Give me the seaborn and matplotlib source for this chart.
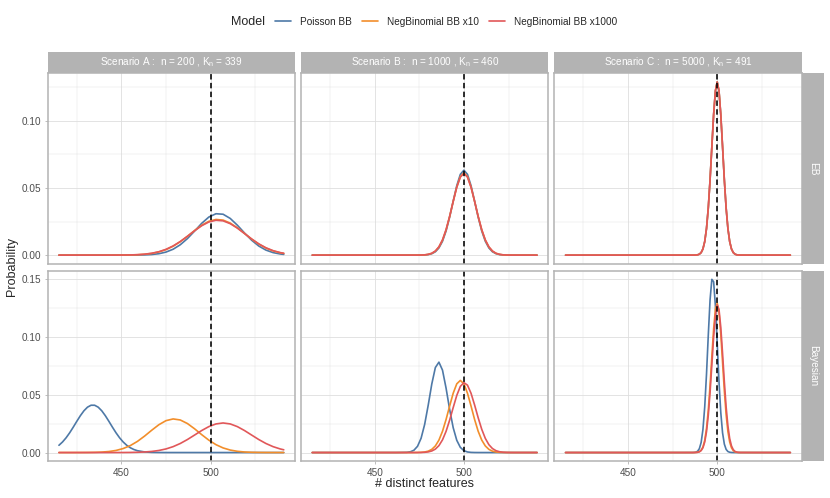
import matplotlib
matplotlib.use("Agg")
import matplotlib.pyplot as plt
from matplotlib.lines import Line2D
from matplotlib.ticker import FixedLocator, FormatStrFormatter
import pandas as pd
import seaborn as sns

# ---------------- data ----------------
models = ["Poisson BB", "NegBinomial BB x10", "NegBinomial BB x1000"]
model_colors = ["#4E79A7", "#F28E2B", "#E15759"]
methods = ["EB", "Bayesian"]
scenarios = ["A", "B", "C"]
scenario_labels = [
    "Scenario A :  n = 200 , K$_{n}$ = 339",
    "Scenario B :  n = 1000 , K$_{n}$ = 460",
    "Scenario C :  n = 5000 , K$_{n}$ = 491",
]
ref_line = 500

x_A = [415, 419, 423, 427, 431, 435, 439, 443, 447, 451, 455, 459, 463, 467, 471, 475,
       479, 483, 487, 491, 495, 499, 503, 507, 511, 515, 519, 523, 527, 531, 535, 539, 541]
x_A_fine = [415, 417, 419, 421, 423, 425, 427, 429, 431, 433, 435, 437, 439, 441, 443, 445,
            447, 449, 451, 453, 455, 457, 459, 463, 467, 471, 475, 541]
x_B = [415, 445, 462, 468, 470, 472, 474, 476, 478, 480, 482, 484, 486, 488, 490, 492,
       494, 496, 498, 500, 502, 504, 506, 508, 510, 512, 514, 516, 518, 520, 522, 524,
       526, 528, 530, 541]
x_C = [415, 470, 482, 486, 487, 488, 489, 490, 491, 492, 493, 494, 495, 496, 497, 498,
       499, 500, 501, 502, 503, 504, 505, 506, 507, 508, 509, 510, 511, 512, 513, 520, 541]

# EB row
eb_A_pois = [0, 0, 0, 0, 0, 0, 0, 0.0000004, 0.0000016, 0.0000057, 0.00002, 0.00006, 0.00018,
             0.00046, 0.00106, 0.00228, 0.0044, 0.00772, 0.0123, 0.01787, 0.02364, 0.02831,
             0.03079, 0.03042, 0.0273, 0.02226, 0.01648, 0.01109, 0.00677, 0.00376, 0.00189,
             0.00087, 0.00057]
eb_A_nb10 = [0, 0, 0, 0, 0, 0, 0, 0.000007, 0.000019, 0.000052, 0.000128, 0.000296, 0.000635,
             0.00127, 0.00237, 0.0041, 0.00663, 0.00998, 0.014, 0.01827, 0.02222, 0.02516,
             0.02654, 0.02607, 0.02385, 0.02033, 0.01613, 0.01192, 0.00821, 0.00526, 0.00314,
             0.00175, 0.00127]
eb_A_nb1000 = [0, 0, 0, 0.0000001, 0.0000003, 0.000001, 0.000003, 0.000009, 0.000025, 0.000064,
               0.000155, 0.000345, 0.00072, 0.0014, 0.00254, 0.00432, 0.00684, 0.01013, 0.01403,
               0.01812, 0.02187, 0.02465, 0.02594, 0.02551, 0.02341, 0.02008, 0.01608, 0.01203,
               0.0084, 0.00548, 0.00334, 0.0019, 0.0014]
eb_B_pois = [0, 0, 0, 0, 0.0000008, 0.0000033, 0.0000126, 0.0000446, 0.000142, 0.000409, 0.00107,
             0.00251, 0.00535, 0.0103, 0.01793, 0.02823, 0.04016, 0.05166, 0.06009, 0.0632,
             0.06009, 0.05166, 0.04016, 0.02823, 0.01793, 0.0103, 0.00535, 0.00251, 0.00107,
             0.000409, 0.000142, 0.0000446, 0.0000126, 0.0000033, 0.0000008, 0]
eb_B_nb10 = [0, 0, 0, 0.0000003, 0.0000015, 0.0000057, 0.0000205, 0.0000671, 0.000199, 0.000538,
             0.00132, 0.00296, 0.00602, 0.01114, 0.01875, 0.0287, 0.03997, 0.05064, 0.05837,
             0.0612, 0.05837, 0.05064, 0.03997, 0.0287, 0.01875, 0.01114, 0.00602, 0.00296,
             0.00132, 0.000538, 0.000199, 0.0000671, 0.0000205, 0.0000057, 0.0000015, 0]
eb_B_nb1000 = [0, 0, 0, 0.0000004, 0.0000017, 0.0000065, 0.000023, 0.000074, 0.000216, 0.000575,
               0.00139, 0.00308, 0.0062, 0.01135, 0.01895, 0.02884, 0.03997, 0.05046, 0.05803,
               0.0608, 0.05803, 0.05046, 0.03997, 0.02884, 0.01895, 0.01135, 0.0062, 0.00308,
               0.00139, 0.000575, 0.000216, 0.000074, 0.000023, 0.0000065, 0.0000017, 0]
eb_C_pois = [0, 0, 0, 0.0000048, 0.0000196, 0.0000718, 0.000238, 0.000709, 0.0019, 0.00461,
             0.01007, 0.0198, 0.03507, 0.05603, 0.08064, 0.1046, 0.12227, 0.1288, 0.12227,
             0.1046, 0.08064, 0.05603, 0.03507, 0.0198, 0.01007, 0.00461, 0.0019, 0.000709,
             0.000238, 0.0000718, 0.0000196, 0, 0]
eb_C_nb10 = [0, 0, 0, 0.0000048, 0.0000196, 0.0000718, 0.000238, 0.000709, 0.0019, 0.00461,
             0.01007, 0.0198, 0.03507, 0.05603, 0.08064, 0.1046, 0.12227, 0.1288, 0.12227,
             0.1046, 0.08064, 0.05603, 0.03507, 0.0198, 0.01007, 0.00461, 0.0019, 0.000709,
             0.000238, 0.0000718, 0.0000196, 0, 0]
eb_C_nb1000 = [0, 0, 0, 0.0000048, 0.0000196, 0.0000718, 0.000238, 0.000709, 0.0019, 0.00461,
               0.01007, 0.0198, 0.03507, 0.05603, 0.08064, 0.1046, 0.12227, 0.1288, 0.12227,
               0.1046, 0.08064, 0.05603, 0.03507, 0.0198, 0.01007, 0.00461, 0.0019, 0.000709,
               0.000238, 0.0000718, 0.0000196, 0, 0]

# Bayesian row
bay_A_pois = [0.00626, 0.0091, 0.0127, 0.017, 0.02184, 0.0269, 0.03177, 0.036, 0.03912, 0.04079,
              0.04079, 0.03912, 0.036, 0.03177, 0.0269, 0.02184, 0.017, 0.0127, 0.0091, 0.00626,
              0.00413, 0.00261, 0.00158, 0.000515, 0.000142, 0.000033, 0.0000066, 0]
bay_A_nb10 = [0.0000005, 0.000002, 0.0000066, 0.000021, 0.00006, 0.00016, 0.00039, 0.00088,
              0.00181, 0.00344, 0.006, 0.00962, 0.01419, 0.01924, 0.02399, 0.0275, 0.02898,
              0.02808, 0.02502, 0.0205, 0.01544, 0.01069, 0.0068, 0.00398, 0.00214, 0.00106,
              0.00048, 0.0002, 0.000078, 0.000027, 0.000009, 0.0000027, 0.0000014]
bay_A_nb1000 = [0, 0, 0, 0.00000005, 0.0000002, 0.0000006, 0.0000019, 0.0000056, 0.0000157,
                0.00004, 0.0000985, 0.000224, 0.000477, 0.000952, 0.00178, 0.00311, 0.00509,
                0.00781, 0.01121, 0.01507, 0.01897, 0.02236, 0.02467, 0.0255, 0.02467, 0.02236,
                0.01897, 0.01507, 0.01121, 0.00781, 0.00509, 0.00311, 0.00237]
bay_B_pois = [0, 0, 0.0000015, 0.000177, 0.000643, 0.002, 0.00537, 0.0123, 0.02424, 0.04086,
              0.0591, 0.07329, 0.07794, 0.07107, 0.05556, 0.03725, 0.02141, 0.01056, 0.00446,
              0.00162, 0.000502, 0.000134, 0.0000306, 0.000006, 0.0000011, 0, 0, 0, 0, 0, 0,
              0, 0, 0, 0, 0]
bay_B_nb10 = [0, 0, 0, 0.0000011, 0.0000043, 0.0000162, 0.000055, 0.000169, 0.000471, 0.00119,
              0.00273, 0.00569, 0.01072, 0.01835, 0.02848, 0.04008, 0.05117, 0.05924, 0.0622,
              0.05924, 0.05117, 0.04008, 0.02848, 0.01835, 0.01072, 0.00569, 0.00273, 0.00119,
              0.000471, 0.000169, 0.000055, 0.0000162, 0.0000043, 0.0000011, 0, 0]
bay_B_nb1000 = [0, 0, 0, 0.0000004, 0.0000017, 0.0000065, 0.0000228, 0.0000726, 0.00021,
                0.000557, 0.00135, 0.00296, 0.00596, 0.01093, 0.01827, 0.02789, 0.0388, 0.04925,
                0.05704, 0.06027, 0.0581, 0.05109, 0.04099, 0.03, 0.02003, 0.0122, 0.00678,
                0.00344, 0.00159, 0.00067, 0.000257, 0.0000905, 0.000029, 0.0000085,
                0.0000023, 0]
bay_C_pois = [0, 0, 0, 0.0000177, 0.000081, 0.000322, 0.00111, 0.00334, 0.00871, 0.01983,
              0.03922, 0.06751, 0.10111, 0.13175, 0.14934, 0.14726, 0.12635, 0.09433, 0.06126,
              0.03463, 0.01702, 0.00728, 0.00271, 0.000876, 0.000247, 0.0000606, 0.000013,
              0, 0, 0, 0, 0, 0]
bay_C_nb10 = [0, 0, 0, 0.0000049, 0.00002, 0.0000737, 0.000246, 0.000737, 0.00198, 0.00481,
              0.01049, 0.02059, 0.03638, 0.05788, 0.08278, 0.10664, 0.12361, 0.12893, 0.12104,
              0.10225, 0.07777, 0.0532, 0.03275, 0.01814, 0.00905, 0.00406, 0.00164, 0.000597,
              0.000195, 0.0000572, 0.0000151, 0, 0]
bay_C_nb1000 = [0, 0, 0, 0.0000043, 0.0000175, 0.000064, 0.000212, 0.00063, 0.0017, 0.00412,
                0.00906, 0.01794, 0.0321, 0.05185, 0.07569, 0.09967, 0.11858, 0.12734, 0.12349,
                0.10815, 0.08549, 0.06107, 0.03935, 0.02292, 0.01203, 0.00572, 0.00245,
                0.000948, 0.000332, 0.000105, 0.0000298, 0, 0]

# (x grid, y values) for each panel / model
curves = {
    ("EB", "A"): [(x_A, eb_A_pois), (x_A, eb_A_nb10), (x_A, eb_A_nb1000)],
    ("EB", "B"): [(x_B, eb_B_pois), (x_B, eb_B_nb10), (x_B, eb_B_nb1000)],
    ("EB", "C"): [(x_C, eb_C_pois), (x_C, eb_C_nb10), (x_C, eb_C_nb1000)],
    ("Bayesian", "A"): [(x_A_fine, bay_A_pois), (x_A, bay_A_nb10), (x_A, bay_A_nb1000)],
    ("Bayesian", "B"): [(x_B, bay_B_pois), (x_B, bay_B_nb10), (x_B, bay_B_nb1000)],
    ("Bayesian", "C"): [(x_C, bay_C_pois), (x_C, bay_C_nb10), (x_C, bay_C_nb1000)],
}

rows = []
for (meth, scen), pairs in curves.items():
    for mod, (xv_list, yv_list) in zip(models, pairs):
        for xv, yy in zip(xv_list, yv_list):
            rows.append({"Method": meth, "Scenario": scen, "Model": mod, "x": xv, "y": yy})
df = pd.DataFrame(rows)

# ---------------- styling ----------------
sns.set_style("white")
plt.rcParams["font.family"] = ["Liberation Sans", "DejaVu Sans"]
plt.rcParams["mathtext.default"] = "regular"

W, H = 830, 498
fig = plt.figure(figsize=(W / 100, H / 100), dpi=100)

col_x = [47.7, 301.0, 554.3]
pw = 247.3
row_top = [73.3, 270.7]
ph = 190.5
strip_h = 21.6
rstrip_w = 22.3

GREY70 = "#B3B3B3"
GRID = "#DEDEDE"
TICKC = "#4D4D4D"


def frac(x, ytop, w, h):
    return [x / W, 1 - (ytop + h) / H, w / W, h / H]


axes = {}
for r, meth in enumerate(methods):
    first = None
    for c, scen in enumerate(scenarios):
        ax = fig.add_axes(frac(col_x[c], row_top[r], pw, ph), sharey=first,
                          sharex=axes.get((0, 0)))
        if first is None:
            first = ax
        axes[(r, c)] = ax
        sub = df[(df["Method"] == meth) & (df["Scenario"] == scen)]
        sns.lineplot(data=sub, x="x", y="y", hue="Model", hue_order=models,
                     palette=model_colors, estimator=None, sort=False,
                     linewidth=1.2, legend=False, ax=ax)
        ax.axvline(ref_line, color="black", linewidth=1.15, linestyle=(0, (3.4, 2.1)), zorder=5)
        ax.set_xlabel("")
        ax.set_ylabel("")
        ax.set_facecolor("white")
        for sp in ax.spines.values():
            sp.set_color(GREY70)
            sp.set_linewidth(1.1)
            sp.set_zorder(6)
        ax.set_axisbelow(True)

for (r, c), ax in axes.items():
    ax.margins(x=0.05, y=0.05)
    ax.xaxis.set_major_locator(FixedLocator([450, 500]))
    ax.xaxis.set_minor_locator(FixedLocator([425, 475, 525]))
    ax.yaxis.set_major_locator(FixedLocator([0.0, 0.05, 0.10, 0.15]))
    ax.yaxis.set_minor_locator(FixedLocator([0.025, 0.075, 0.125]))
    ax.yaxis.set_major_formatter(FormatStrFormatter("%.2f"))
    ax.grid(which="major", color=GRID, linewidth=0.6)
    ax.grid(which="minor", color=GRID, linewidth=0.3)
    ax.tick_params(which="minor", length=0)
    ax.tick_params(which="major", length=2.25, width=0.6, color=GREY70,
                   labelsize=7.2, labelcolor=TICKC, pad=2.6)
    ax.tick_params(axis="x", bottom=(r == 1), labelbottom=(r == 1), top=False)
    ax.tick_params(axis="y", left=(c == 0), labelleft=(c == 0), right=False)

# y limits per row (free y across rows)
for r in range(2):
    ys = df[df["Method"] == methods[r]]["y"]
    ymax = ys.max()
    axes[(r, 0)].set_ylim(-0.05 * ymax, 1.05 * ymax)
xmin, xmax = df["x"].min(), df["x"].max()
pad = 0.05 * (xmax - xmin)
axes[(0, 0)].set_xlim(xmin - pad, xmax + pad)

# strips
for c, lab in enumerate(scenario_labels):
    sax = fig.add_axes(frac(col_x[c], row_top[0] - strip_h, pw, strip_h))
    sax.set_facecolor(GREY70)
    sax.set_xticks([]); sax.set_yticks([])
    for sp in sax.spines.values():
        sp.set_visible(False)
    sax.text(0.5, 0.5, lab, color="white", fontsize=7.2, ha="center", va="center",
             transform=sax.transAxes)
for r, meth in enumerate(methods):
    sax = fig.add_axes(frac(col_x[2] + pw, row_top[r], rstrip_w, ph))
    sax.set_facecolor(GREY70)
    sax.set_xticks([]); sax.set_yticks([])
    for sp in sax.spines.values():
        sp.set_visible(False)
    sax.text(0.5, 0.5, meth, color="white", fontsize=7.2, ha="center", va="center",
             rotation=-90, transform=sax.transAxes)

# axis titles
fig.text(424.7 / W, 1 - 484 / H, "# distinct features", fontsize=9, ha="center", va="center")
fig.text(12 / W, 1 - 267 / H, "Probability", fontsize=9, ha="center", va="center", rotation=90)

# legend
fig.text(231 / W, 1 - 22 / H, "Model", fontsize=9, ha="left", va="center")
handles = [Line2D([0], [0], color=col, linewidth=1.2) for col in model_colors]
fig.legend(handles, models, loc="center left", bbox_to_anchor=(275 / W, 1 - 22 / H),
           ncol=3, frameon=False, fontsize=7.2, handlelength=1.6, handletextpad=0.9,
           columnspacing=1.0, borderpad=0, borderaxespad=0)

fig.savefig("out.png", dpi=100)
